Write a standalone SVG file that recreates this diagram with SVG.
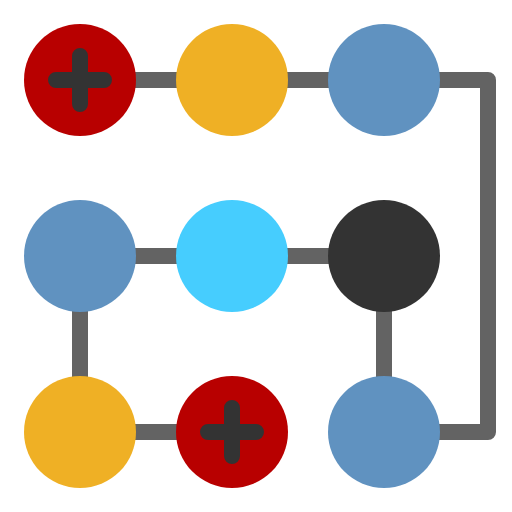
<svg xmlns="http://www.w3.org/2000/svg" width="512" height="512" viewBox="0 0 512 512">
<style>
.c{fill:none;stroke:#636363;stroke-width:16;stroke-linejoin:round}
.p{fill:none;stroke:#333333;stroke-width:16;stroke-linecap:round}
.red{fill:#B80000}.org{fill:#EFB025}.blu{fill:#6092C0}.cy{fill:#46CDFE}.dk{fill:#333333}
</style>
<g id="connectors">
<path class="c" d="M80 80H488V432H384"/>
<path class="c" d="M80 256H384"/>
<path class="c" d="M80 256V432H232"/>
<path class="c" d="M384 256V432"/>
</g>
<g id="n1"><circle class="red" cx="80" cy="80" r="56"/><path class="p" d="M80 56V104M56 80H104"/></g>
<g id="n2"><circle class="org" cx="232" cy="80" r="56"/></g>
<g id="n3"><circle class="blu" cx="384" cy="80" r="56"/></g>
<g id="n4"><circle class="blu" cx="80" cy="256" r="56"/></g>
<g id="n5"><circle class="cy" cx="232" cy="256" r="56"/></g>
<g id="n6"><circle class="dk" cx="384" cy="256" r="56"/></g>
<g id="n7"><circle class="org" cx="80" cy="432" r="56"/></g>
<g id="n8"><circle class="red" cx="232" cy="432" r="56"/><path class="p" d="M232 408V456M208 432H256"/></g>
<g id="n9"><circle class="blu" cx="384" cy="432" r="56"/></g>
</svg>
